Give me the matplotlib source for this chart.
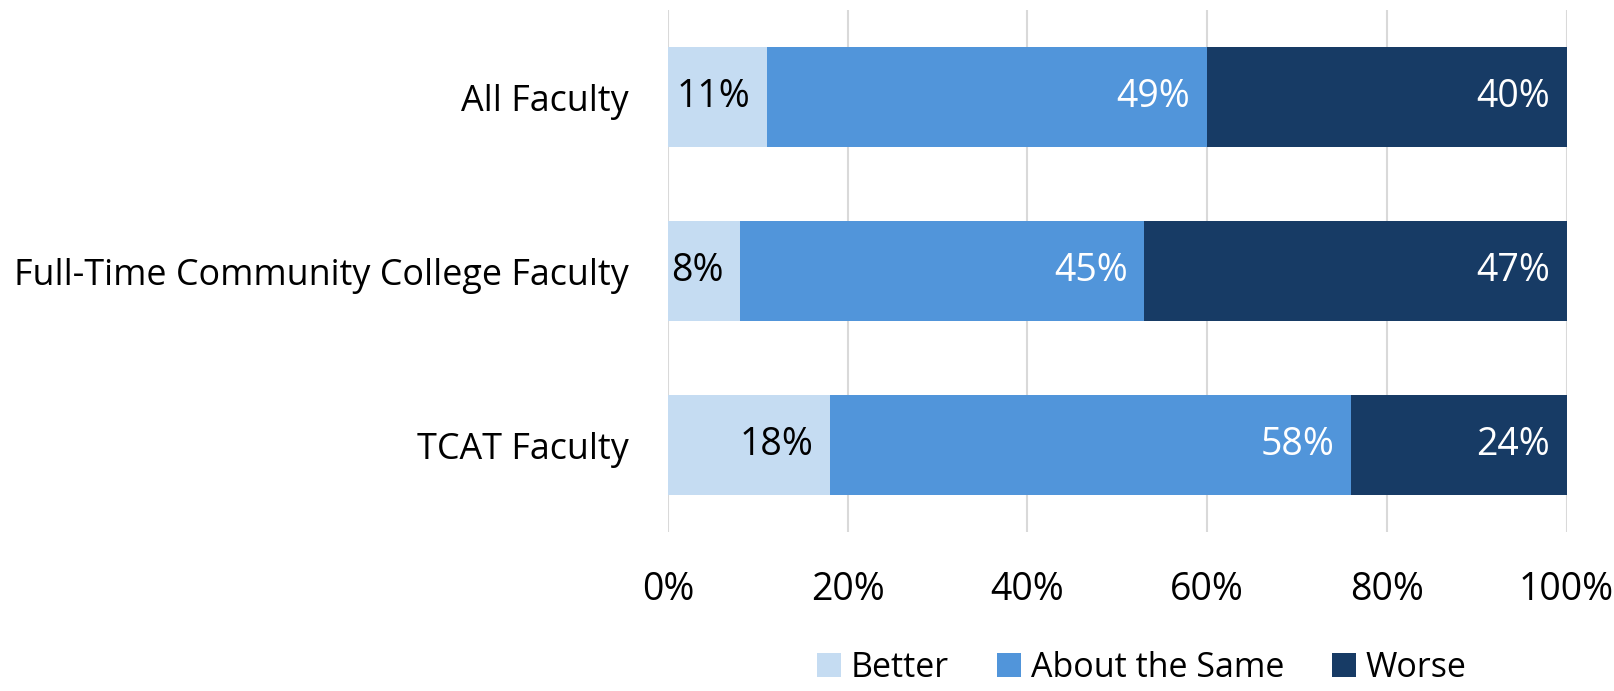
import matplotlib
matplotlib.use("Agg")
import matplotlib.pyplot as plt
import numpy as np

categories = ["All Faculty", "Full-Time Community College Faculty", "TCAT Faculty"]
series_names = ["Better", "About the Same", "Worse"]
better = [11, 8, 18]
same = [49, 45, 58]
worse = [40, 47, 24]
colors = ["#C5DCF2", "#5195DA", "#173B65"]
label_colors = ["black", "white", "white"]
xticks = [0, 20, 40, 60, 80, 100]

plt.rcParams['font.family'] = ['Open Sans', 'DejaVu Sans']

fig = plt.figure(figsize=(16.15, 6.91), dpi=100)
ax = fig.add_axes([0.4136, 0.230, 0.5564, 0.7555])

y = np.arange(len(categories))
left = np.zeros(len(categories))
for name, vals, col, lc in zip(series_names, [better, same, worse], colors, label_colors):
    vals = np.array(vals, dtype=float)
    ax.barh(y, vals, left=left, height=0.575, color=col, label=name, zorder=3)
    for yi, l, v in zip(y, left, vals):
        ax.annotate(f"{int(v)}%", xy=(l + v, yi), xytext=(-12, 0), textcoords="offset points",
                    ha="right", va="center", color=lc, fontsize=27, zorder=4)
    left += vals

ax.set_xlim(0, 100)
ax.set_ylim(2.5, -0.5)
ax.set_yticks(y)
ax.set_yticklabels(categories, fontsize=25.8)
ax.set_xticks(xticks)
ax.set_xticklabels([f"{t}%" for t in xticks], fontsize=27)
ax.tick_params(axis="y", length=0, pad=28)
ax.tick_params(axis="x", length=0, pad=28)
for s in ax.spines.values():
    s.set_visible(False)
ax.xaxis.grid(True, color="#D9D9D9", linewidth=1.5, zorder=0)
ax.set_axisbelow(True)

leg = fig.legend(loc="lower center", bbox_to_anchor=(0.707, -0.035), ncol=3, frameon=False,
                 fontsize=24.5, handlelength=0.7, handleheight=0.7, handletextpad=0.3,
                 columnspacing=1.4)

fig.savefig("out.png", dpi=100)
